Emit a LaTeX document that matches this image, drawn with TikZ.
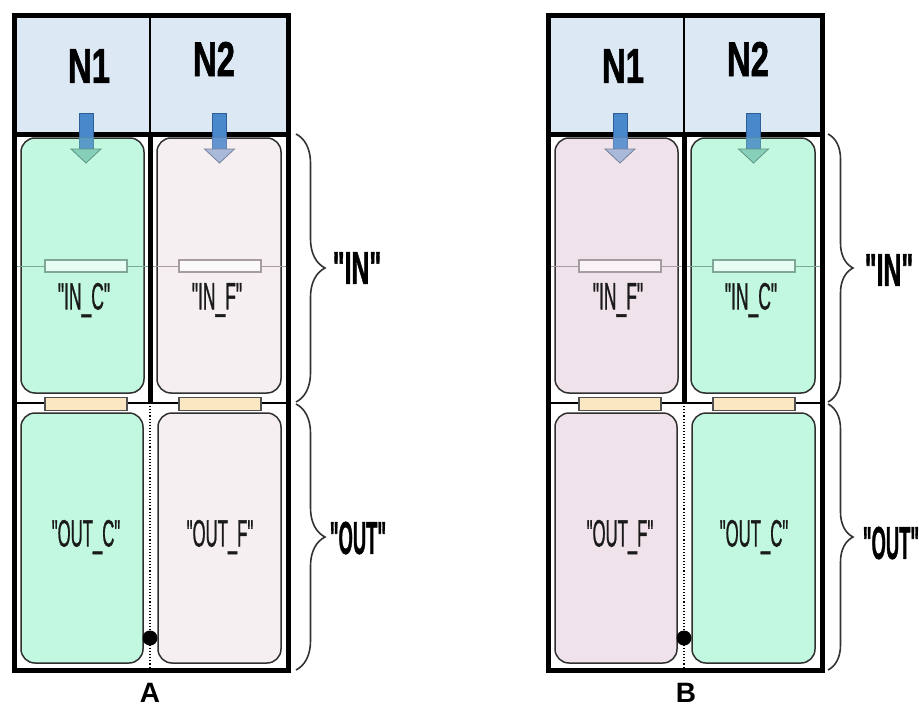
\documentclass[tikz,border=0pt]{standalone}
\usepackage{graphicx}
\usepackage{fontspec}
\newfontfamily\lab{Liberation Sans}
\newfontfamily\labm[FakeBold=1.3]{Liberation Sans}
\newfontfamily\labb[FakeBold=1.5]{Liberation Sans Bold}
\usetikzlibrary{decorations.pathreplacing}
\definecolor{hdr}{HTML}{DDE8F5}
\definecolor{grn}{HTML}{C2F8DF}
\definecolor{pka}{HTML}{F5EFF2}
\definecolor{pkb}{HTML}{F0E2EA}
\definecolor{ylw}{HTML}{FBE8C2}
\definecolor{ybord}{HTML}{505050}
\definecolor{shaft}{HTML}{4A88CC}
\definecolor{shaftd}{HTML}{2E5E9A}
\definecolor{headC}{HTML}{86D0BA}
\definecolor{headF}{HTML}{A9B9DA}
\definecolor{resC}{HTML}{7FA898}
\definecolor{resF}{HTML}{A69CA2}
\definecolor{boxline}{HTML}{303030}
\definecolor{txtc}{HTML}{1A1A1A}
\definecolor{bracec}{HTML}{333333}
\colorlet{fillC}{grn}
\colorlet{fillF}{pka}
\newcommand\sq[2]{\scalebox{#1}[1]{#2}}
\newcommand\arr[2]{%
  \fill[shaft, draw=shaftd, line width=0.8] (#1-7,113) rectangle (#1+7,137);
  \fill[shaft!75!#2, draw=shaftd!60!#2, line width=0.8] (#1-7,137) rectangle (#1+7,149);
  \filldraw[fill=#2, draw=#2!70!black, line width=0.8] (#1-15,149) -- (#1+15,149) -- (#1,163) -- cycle;}
\newcommand\panel[4]{%
\begin{scope}[xshift=#2]
  \node[fill=hdr, minimum width=274, minimum height=118.5, inner sep=0] (#1hdr) at (151,74.75) {};
  \node[box, fill=fill#3, minimum width=123, minimum height=255] (#1li) at (82.5,265.5) {};
  \node[box, fill=fill#4, minimum width=124, minimum height=255] (#1ri) at (219,265.5) {};
  \node[box, fill=fill#3, minimum width=122, minimum height=250] (#1lo) at (82,538) {};
  \node[box, fill=fill#4, minimum width=123, minimum height=250] (#1ro) at (219.5,538) {};
  \draw[res#3, line width=1] (14,266) -- (150,266);
  \draw[res#4, line width=1] (150,266) -- (288,266);
  \node[resbox, draw=res#3, fill=fill#3!40!white] (#1lr) at (86,266) {};
  \node[resbox, draw=res#4, fill=fill#4!40!white] (#1rr) at (220,266) {};
  \draw[line width=1.5] (14,403) -- (288,403);
  \node[ybox] (#1ly) at (86,404) {};
  \node[ybox] (#1ry) at (220,404) {};
  \draw[line width=5] (150,134) -- (150,403);
  \draw[dotted, line width=1.1] (150,403) -- (150,670);
  \draw[line width=1.5] (150,15.5) -- (150,134);
  \draw[line width=5] (14,134) -- (288,134);
  \node[draw, line width=5, minimum width=274, minimum height=654.5, inner sep=0] (#1frame) at (151,342.75) {};
  \fill (150,638) circle (7.5);
  \arr{86}{head#3}
  \arr{219.5}{head#4}
  \node[nlab] (#1n1) at (89,66) {\sq{0.67}{N1}};
  \node[nlab] (#1n2) at (214,59) {\sq{0.67}{N2}};
  \node[txt] (#1lit) at (84,300) {\sq{0.46}{"IN\_#3"}};
  \node[txt] (#1rit) at (217,300) {\sq{0.46}{"IN\_#4"}};
  \node[txt] (#1lot) at (86,537) {\sq{0.44}{"OUT\_#3"}};
  \node[txt] (#1rot) at (220,537) {\sq{0.44}{"OUT\_#4"}};
\end{scope}}
\begin{document}
\begin{tikzpicture}[x=1pt,y=-1pt,
  box/.style={draw=boxline, line width=1.5, rounded corners=14, inner sep=0},
  resbox/.style={line width=1.2, inner sep=0, minimum width=82, minimum height=12},
  ybox/.style={draw=ybord, fill=ylw, line width=1.2, inner sep=0, minimum width=82, minimum height=13},
  txt/.style={font=\labm\fontsize{38}{38}\selectfont, text=txtc, inner sep=0},
  nlab/.style={font=\labb\fontsize{49}{49}\selectfont, inner sep=0},
  blab/.style={font=\labb\fontsize{46}{46}\selectfont, inner sep=0},
  plab/.style={font=\lab\bfseries\fontsize{28}{28}\selectfont, inner sep=0},
  brc/.style={draw=bracec, line width=1.6, decorate, decoration={brace, amplitude=#1}},
]
\useasboundingbox (0,0) rectangle (919,709);
\colorlet{fillF}{pka}
\panel{a}{0}{C}{F}
\colorlet{fillF}{pkb}
\panel{b}{534}{F}{C}
\coordinate (ai1) at (296,134);
\coordinate (ai2) at (296,402);
\coordinate (ao1) at (296,404);
\coordinate (ao2) at (296,670);
\draw[brc=29] (ai1) -- (ai2);
\draw[brc=29] (ao1) -- (ao2);
\coordinate (bi1) at (828,134);
\coordinate (bi2) at (828,402);
\coordinate (bo1) at (828,404);
\coordinate (bo2) at (828,670);
\draw[brc=25] (bi1) -- (bi2);
\draw[brc=25] (bo1) -- (bo2);
\node[blab] (ain) at (357,268) {\sq{0.54}{"IN"}};
\node[blab] (aout) at (358,538) {\sq{0.40}{"OUT"}};
\node[blab] (bin) at (889,270) {\sq{0.54}{"IN"}};
\node[blab] (bout) at (891,543) {\sq{0.40}{"OUT"}};
\node[plab] (la) at (150,693) {A};
\node[plab] (lb) at (686,693) {B};
\end{tikzpicture}
\end{document}
